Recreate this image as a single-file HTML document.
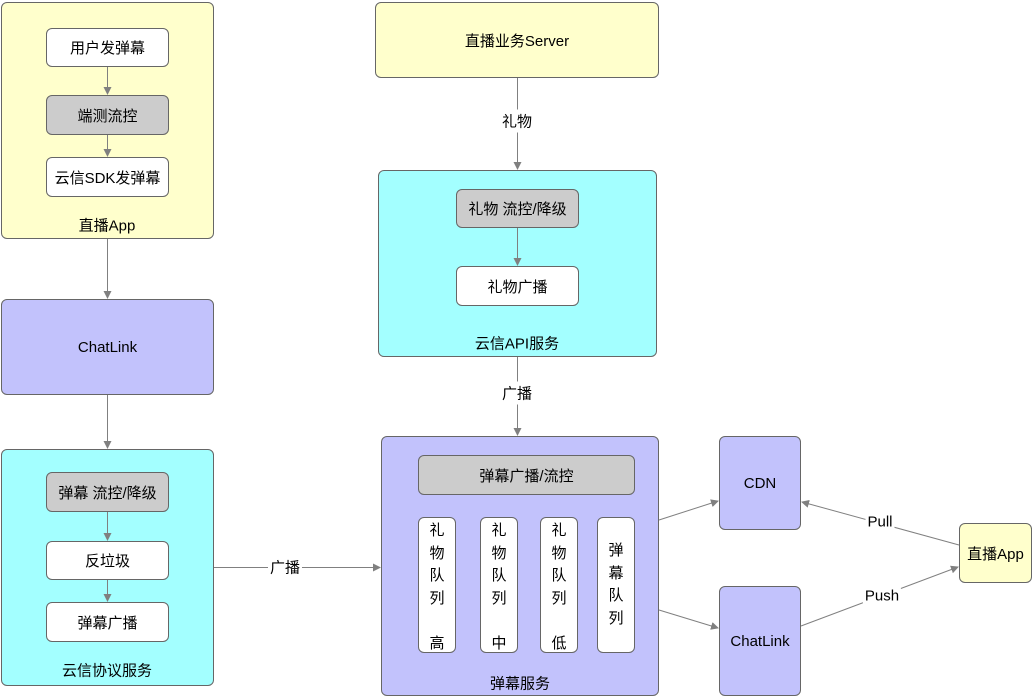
<!DOCTYPE html>
<html><head><meta charset="utf-8"><style>
body{margin:0;width:1034px;height:698px;background:#fff;position:relative;overflow:hidden;font-family:"Liberation Sans","Noto Sans CJK SC",sans-serif;font-size:15px;color:#000}
.b{position:absolute;box-sizing:border-box;border:1px solid #666;border-radius:6px;display:flex;align-items:center;justify-content:center;text-align:center}
.y{background:#ffffcc}.c{background:#a3ffff}.p{background:#c2c2fc}.w{background:#fff}.g{background:#cccccc}
.l{position:absolute;transform:translate(-50%,-50%);background:#fff;white-space:nowrap;padding:1px 2px}
.t{position:absolute;transform:translate(-50%,-50%);white-space:nowrap}
.col{line-height:22.5px;flex-direction:column}
</style></head><body>
<div class="b y" style="left:1px;top:2px;width:213px;height:237px"></div>
<div class="b w" style="left:46px;top:28px;width:123px;height:39px">用户发弹幕</div>
<div class="b g" style="left:46px;top:95px;width:123px;height:40px">端测流控</div>
<div class="b w" style="left:46px;top:157px;width:123px;height:40px">云信SDK发弹幕</div>
<div class="t" style="left:107px;top:225px">直播App</div>
<div class="b p" style="left:1px;top:299px;width:213px;height:96px">ChatLink</div>
<div class="b c" style="left:1px;top:449px;width:213px;height:237px"></div>
<div class="b g" style="left:46px;top:472px;width:123px;height:40px">弹幕 流控/降级</div>
<div class="b w" style="left:46px;top:541px;width:123px;height:39px">反垃圾</div>
<div class="b w" style="left:46px;top:602px;width:123px;height:40px">弹幕广播</div>
<div class="t" style="left:107px;top:670px">云信协议服务</div>
<div class="b y" style="left:375px;top:2px;width:284px;height:76px">直播业务Server</div>
<div class="b c" style="left:378px;top:170px;width:279px;height:187px"></div>
<div class="b g" style="left:456px;top:189px;width:123px;height:39px">礼物 流控/降级</div>
<div class="b w" style="left:456px;top:266px;width:123px;height:40px">礼物广播</div>
<div class="t" style="left:517px;top:343px">云信API服务</div>
<div class="b p" style="left:381px;top:436px;width:278px;height:260px"></div>
<div class="b g" style="left:418px;top:455px;width:217px;height:40px">弹幕广播/流控</div>
<div class="b w col" style="left:418px;top:517px;width:38px;height:136px;justify-content:flex-start;padding-top:2px">礼<br>物<br>队<br>列<br><br>高</div>
<div class="b w col" style="left:480px;top:517px;width:38px;height:136px;justify-content:flex-start;padding-top:2px">礼<br>物<br>队<br>列<br><br>中</div>
<div class="b w col" style="left:540px;top:517px;width:38px;height:136px;justify-content:flex-start;padding-top:2px">礼<br>物<br>队<br>列<br><br>低</div>
<div class="b w col" style="left:597px;top:517px;width:38px;height:136px">弹<br>幕<br>队<br>列</div>
<div class="t" style="left:520px;top:683px">弹幕服务</div>
<div class="b p" style="left:719px;top:436px;width:82px;height:94px">CDN</div>
<div class="b p" style="left:719px;top:586px;width:82px;height:110px">ChatLink</div>
<div class="b y" style="left:959px;top:523px;width:73px;height:60px">直播App</div>
<svg style="position:absolute;left:0;top:0" width="1034" height="698">
<defs><marker id="a" markerWidth="8" markerHeight="8" refX="7" refY="4" orient="auto" markerUnits="userSpaceOnUse"><path d="M0,0 L8,4 L0,8 Z" fill="#808080"/></marker></defs>
<g stroke="#808080" stroke-width="1" fill="none" marker-end="url(#a)">
<line x1="107.5" y1="67" x2="107.5" y2="94"/>
<line x1="107.5" y1="135" x2="107.5" y2="156"/>
<line x1="107.5" y1="239" x2="107.5" y2="298"/>
<line x1="107.5" y1="395" x2="107.5" y2="448"/>
<line x1="107.5" y1="512" x2="107.5" y2="540"/>
<line x1="107.5" y1="580" x2="107.5" y2="601"/>
<line x1="214" y1="567.5" x2="380" y2="567.5"/>
<line x1="517.5" y1="78" x2="517.5" y2="169"/>
<line x1="517.5" y1="228" x2="517.5" y2="265"/>
<line x1="517.5" y1="357" x2="517.5" y2="435"/>
<line x1="659" y1="520" x2="718" y2="501"/>
<line x1="659" y1="610" x2="718" y2="628"/>
<line x1="959" y1="545" x2="802" y2="502"/>
<line x1="801" y1="626" x2="958" y2="567"/>
</g></svg>
<div class="l" style="left:285px;top:567px">广播</div>
<div class="l" style="left:517px;top:121px">礼物</div>
<div class="l" style="left:517px;top:393px">广播</div>
<div class="l" style="left:880px;top:522px">Pull</div>
<div class="l" style="left:882px;top:596px">Push</div>
</body></html>
